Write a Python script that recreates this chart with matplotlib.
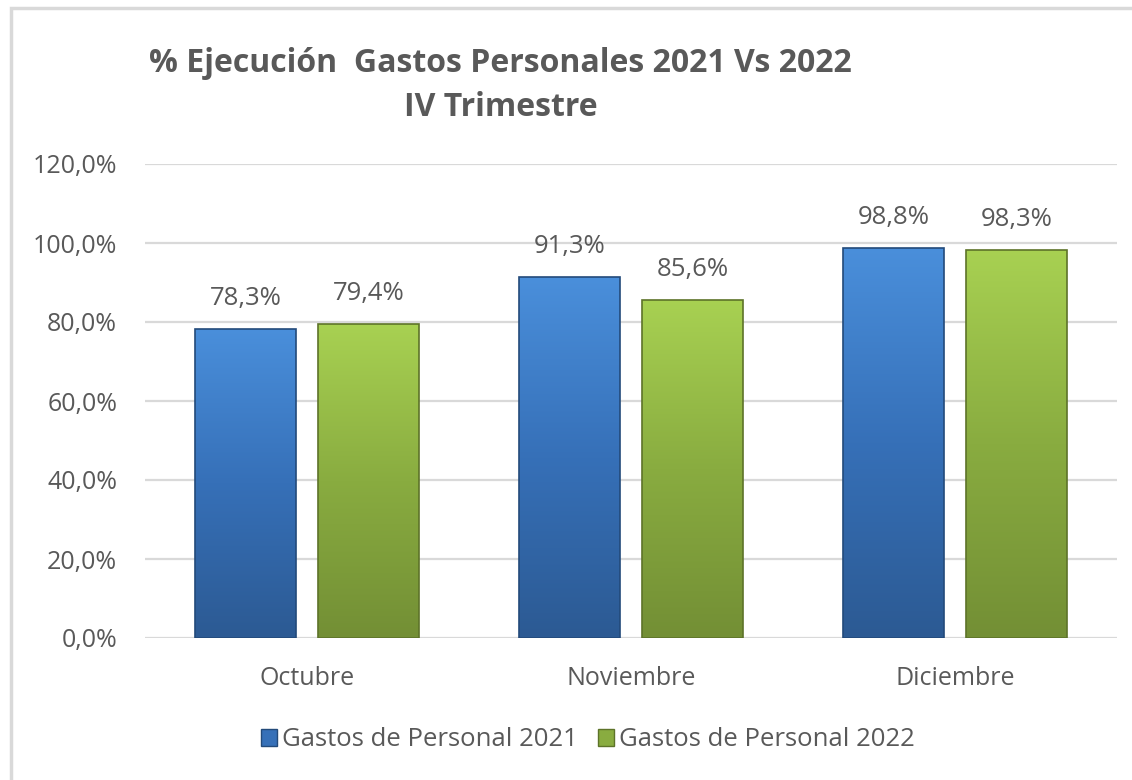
import numpy as np
import matplotlib
matplotlib.use("Agg")
import matplotlib.pyplot as plt
from matplotlib.colors import LinearSegmentedColormap
from matplotlib.patches import Patch, Rectangle

plt.rcParams['font.family'] = ['Open Sans', 'DejaVu Sans']

meses = ["Octubre", "Noviembre", "Diciembre"]
gastos_2021 = [78.3, 91.3, 98.8]
gastos_2022 = [79.4, 85.6, 98.3]
series_names = ["Gastos de Personal 2021", "Gastos de Personal 2022"]
yticks = [0, 20, 40, 60, 80, 100, 120]

grey = "#595959"
blue_cm = LinearSegmentedColormap.from_list("b", ["#2c5a93", "#3670b8", "#4a8fdb"])
green_cm = LinearSegmentedColormap.from_list("g", ["#738f35", "#89ac40", "#a8d152"])

fig = plt.figure(figsize=(11.32, 7.8), dpi=100)
# chart border (only top / left visible in the crop)
fig.patches.append(Rectangle((11/1132, -0.1), 1.2, 1.1 - 8/780, transform=fig.transFigure,
                             fill=False, edgecolor="#d9d9d9", linewidth=2.5))

ax = fig.add_axes([145/1132, 1 - 638/780, (1117-145)/1132, (638-164)/780])

x = np.arange(len(meses))
w = 0.31
off = 0.19
grad = np.linspace(0, 1, 256).reshape(-1, 1)

for vals, dx, cm, edge in [(gastos_2021, -off, blue_cm, "#234a7a"),
                           (gastos_2022, off, green_cm, "#5d7329")]:
    bars = ax.bar(x + dx, vals, width=w, color="none", edgecolor=edge, linewidth=1.2, zorder=3)
    for b, v in zip(bars, vals):
        x0 = b.get_x()
        im = ax.imshow(grad, extent=[x0, x0 + w, 0, v], origin="lower", aspect="auto",
                       cmap=cm, zorder=2)
        im.set_clip_path(b)
        ax.annotate(f"{v:.1f}%".replace(".", ","), (x0 + w/2, v), xytext=(0, 22),
                    textcoords="offset points", ha="center", va="center",
                    fontsize=18.5, color=grey)

ax.set_xlim(-0.5, 2.5)
ax.set_ylim(0, 120)
ax.set_yticks(yticks)
ax.set_yticklabels([f"{t:.1f}%".replace(".", ",") for t in yticks])
ax.set_xticks(x)
ax.set_xticklabels(meses)
ax.tick_params(axis="both", length=0, labelsize=18, labelcolor=grey)
ax.tick_params(axis="y", pad=20)
ax.tick_params(axis="x", pad=20)
ax.grid(axis="y", color="#d9d9d9", linewidth=1.6, zorder=0)
for s in ax.spines.values():
    s.set_visible(False)

fig.text(500/1132, 1 - 63/780, "% Ejecución  Gastos Personales 2021 Vs 2022", ha="center",
         va="center", fontsize=23, fontweight="bold", color=grey)
fig.text(501/1132, 1 - 108/780, "IV Trimestre", ha="center", va="center",
         fontsize=23, fontweight="bold", color=grey)

handles = [Patch(facecolor="#3670b8", edgecolor="#234a7a"),
           Patch(facecolor="#89ac40", edgecolor="#5d7329")]
fig.legend(handles, series_names, loc="center", bbox_to_anchor=(588/1132, 1 - 740/780),
           ncol=2, frameon=False, fontsize=18.5, labelcolor=grey, handlelength=0.6,
           handleheight=0.6, handletextpad=0.2, columnspacing=0.8)

fig.savefig("out.png", dpi=100)
